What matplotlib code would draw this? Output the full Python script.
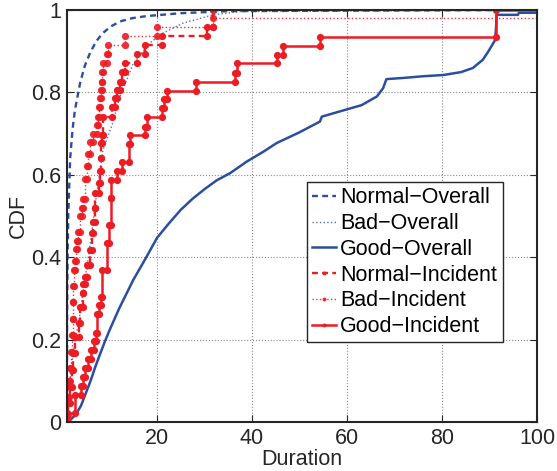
import numpy as np
import matplotlib
matplotlib.use("Agg")
import matplotlib.pyplot as plt

plt.rcParams['font.family'] = ['Liberation Sans', 'DejaVu Sans']

BLUE = '#2B4EA2'
RED = '#EC1C24'

# ---- overall CDFs ----
normal_overall_x = [1.0, 1.05, 1.15, 1.3, 1.7, 2.2, 2.7, 3.8, 4.8, 5.9, 7.2, 8.6, 10.3, 12.2, 14.8, 17.8, 25, 35, 100]
normal_overall_y = [0.0, 0.25, 0.4, 0.5, 0.64, 0.71, 0.757, 0.823, 0.865, 0.896, 0.924, 0.944, 0.96, 0.972, 0.98, 0.985, 0.992, 0.997, 1.0]

bad_overall_x = [1.0, 1.3, 1.7, 2.5, 3.8, 4.5, 5.9, 7.3, 8.6, 10.5, 12.2, 15, 18.5, 21.3, 25.5, 31.8, 37.5, 100]
bad_overall_y = [0.0, 0.02, 0.11, 0.18, 0.264, 0.32, 0.43, 0.556, 0.66, 0.72, 0.79, 0.87, 0.92, 0.944, 0.968, 0.988, 0.996, 1.0]

good_overall_x = [1, 2, 3, 4, 5, 6, 7, 8, 9, 10, 12, 15, 17.5, 20, 22.5, 25, 27.5, 30, 32.5, 35.4,
                  38.9, 42.4, 45.2, 50, 54.3, 54.7, 58, 63.1, 66.3, 67.6, 68.3, 72, 76, 80.3, 84,
                  86.5, 88.6, 89.7, 91.2, 91.4, 91.5, 96, 96.2, 100]
good_overall_y = [0.0, 0.008, 0.02, 0.04, 0.07, 0.10, 0.134, 0.165, 0.195, 0.223, 0.275, 0.345, 0.395,
                  0.447, 0.482, 0.515, 0.542, 0.565, 0.586, 0.604, 0.632, 0.656, 0.677, 0.703, 0.729,
                  0.741, 0.752, 0.769, 0.79, 0.81, 0.832, 0.835, 0.839, 0.842, 0.849, 0.859, 0.879,
                  0.898, 0.927, 0.96, 0.988, 0.988, 0.993, 0.993]

# ---- incident CDFs: step positions and cumulative fraction after each step ----
normal_inc_x = [1.0, 1.3, 1.7, 2.0, 2.4, 2.7, 3.6, 3.8, 4.3, 4.5, 4.8, 5.2, 5.9, 6.2, 6.6, 6.9, 7.0,
                7.8, 8.0, 8.1, 8.2, 8.3, 8.7, 10.5, 11.2, 11.5, 12.2, 12.6, 13.3, 15.8, 17.5, 21.0,
                30.5, 31.8]
normal_inc_y = [0.01, 0.045, 0.086, 0.126, 0.167, 0.207, 0.24, 0.28, 0.312, 0.335, 0.353, 0.38, 0.417,
                0.458, 0.486, 0.52, 0.555, 0.58, 0.608, 0.64, 0.676, 0.697, 0.741, 0.765, 0.786,
                0.806, 0.826, 0.85, 0.87, 0.893, 0.915, 0.937, 0.958, 1.0]

bad_inc_x = [1.0, 1.3, 1.5, 1.7, 1.9, 2.0, 2.2, 2.3, 2.4, 2.6, 2.7, 2.9, 3.2, 3.4, 3.8, 4.2, 4.5,
             4.8, 5.2, 5.5, 5.9, 6.6, 7.3, 7.6, 7.7, 8.0, 8.1, 8.3, 8.5, 8.7, 9.4, 9.6, 13.2,
             20.0, 31.8]
bad_inc_y = [0.02, 0.06, 0.10, 0.13, 0.17, 0.21, 0.25, 0.29, 0.33, 0.37, 0.39, 0.42, 0.44, 0.46,
             0.50, 0.52, 0.54, 0.59, 0.62, 0.65, 0.68, 0.70, 0.72, 0.74, 0.765, 0.786, 0.806,
             0.826, 0.85, 0.87, 0.893, 0.915, 0.937, 0.958, 0.98]

good_inc_x = [1.0, 2.8, 3.9, 4.4, 4.9, 5.4, 6.1, 6.7, 7.1, 7.4, 7.8, 8.1, 8.4, 9.4, 9.9, 10.2,
              10.4, 11.5, 12.6, 14.0, 14.3, 17.5, 17.9, 21.0, 21.5, 22.0, 28.3, 36.4, 36.9, 45.2,
              46.5, 54.3, 91.4]
good_inc_y = [0.022, 0.065, 0.087, 0.109, 0.130, 0.152, 0.174, 0.196, 0.217, 0.261, 0.283, 0.304,
              0.370, 0.435, 0.478, 0.543, 0.587, 0.609, 0.630, 0.674, 0.696, 0.717, 0.739, 0.761,
              0.783, 0.804, 0.826, 0.848, 0.870, 0.891, 0.913, 0.935, 1.0]

legend_labels = ['Normal\u2212Overall', 'Bad\u2212Overall', 'Good\u2212Overall',
                 'Normal\u2212Incident', 'Bad\u2212Incident', 'Good\u2212Incident']


def stairs(x, y, x_end=100):
    """Build MATLAB-style stair vertices (start at 0, run out to x_end)."""
    x = np.asarray(x, float)
    y = np.asarray(y, float)
    prev = np.concatenate([[0.0], y[:-1]])
    xs = np.repeat(x, 2)
    ys = np.column_stack([prev, y]).ravel()
    xs = np.append(xs, x_end)
    ys = np.append(ys, y[-1])
    return xs, ys


fig = plt.figure(figsize=(5.57, 4.71), dpi=100)
ax = fig.add_axes([0.120, 0.104, 0.844, 0.875])

ax.plot(normal_overall_x, normal_overall_y, color=BLUE, lw=1.7, dashes=(2.5, 1.8),
        label=legend_labels[0])
ax.plot(bad_overall_x, bad_overall_y, color=BLUE, lw=1.0, ls=':', alpha=0.8,
        label=legend_labels[1])
ax.plot(good_overall_x, good_overall_y, color=BLUE, lw=1.8, label=legend_labels[2])

ms = 5.2
xs, ys = stairs(normal_inc_x, normal_inc_y)
ax.plot(xs, ys, color=RED, lw=1.7, dashes=(2.5, 1.8), marker='o', ms=ms,
        mec='none', markevery=list(range(len(xs) - 1)), label=legend_labels[3])
xs, ys = stairs(bad_inc_x, bad_inc_y)
ax.plot(xs, ys, color=RED, lw=1.0, ls=':', alpha=0.9, marker='o', ms=ms,
        mec='none', markevery=list(range(len(xs) - 1)), label=legend_labels[4])
xs, ys = stairs(good_inc_x, good_inc_y)
ax.plot(xs, ys, color=RED, lw=1.8, marker='o', ms=ms,
        mec='none', markevery=list(range(len(xs) - 1)), label=legend_labels[5])

ax.set_xlim(1, 100)
ax.set_ylim(0, 1)
ax.set_xticks([20, 40, 60, 80, 100])
ax.set_yticks([0, 0.2, 0.4, 0.6, 0.8, 1])
ax.set_yticklabels(['0', '0.2', '0.4', '0.6', '0.8', '1'])
ax.grid(True, ls=':', color='#8a8a8a', lw=0.8)
ax.tick_params(direction='in', top=True, right=True, length=5, labelsize=15.5, pad=4,
               colors='#262626')
for s in ax.spines.values():
    s.set_linewidth(1.5)
    s.set_color('#262626')

ax.set_xlabel('Duration', fontsize=15.5, labelpad=0, color='#262626')
ax.set_ylabel('CDF', fontsize=15.5, labelpad=2, color='#262626')

leg = ax.legend(loc='upper left', bbox_to_anchor=(307 / 557, 1 - 182 / 471),
                bbox_transform=fig.transFigure, borderaxespad=0, fontsize=15.5,
                handlelength=1.1, handletextpad=0.2, labelspacing=0.22,
                borderpad=0.25, fancybox=False, framealpha=1, markerscale=0.55)
leg.get_frame().set_edgecolor('#262626')
leg.get_frame().set_linewidth(1.0)

fig.savefig('out.png', dpi=100)
